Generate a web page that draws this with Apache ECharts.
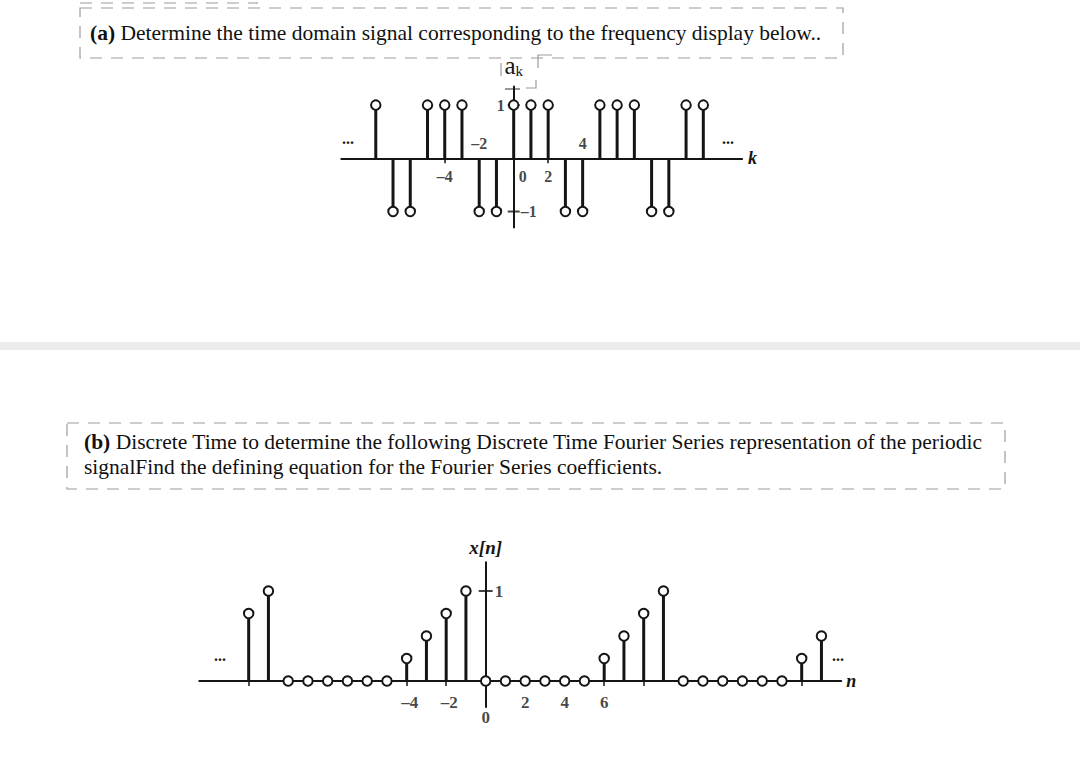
<!DOCTYPE html>
<html>
<head>
<meta charset="utf-8">
<script src="https://cdn.jsdelivr.net/npm/echarts@6/dist/echarts.min.js"></script>
<style>
html, body { margin: 0; padding: 0; background: #fff; }
#chart { width: 1080px; height: 760px; }
</style>
</head>
<body>
<div id="chart"></div>
<script>
// (a) spectrum a_k
var kValues = [-8, -7, -6, -5, -4, -3, -2, -1, 0, 1, 2, 3, 4, 5, 6, 7, 8, 9, 10, 11];
var akValues = [1, -1, -1, 1, 1, 1, -1, -1, 1, 1, 1, -1, -1, 1, 1, 1, -1, -1, 1, 1];
var kTickLabels = [-4, -2, 0, 2, 4];
var akTickLabels = [1, -1];

// (b) signal x[n]
var nValues = [-12, -11, -10, -9, -8, -7, -6, -5, -4, -3, -2, -1, 0, 1, 2, 3, 4, 5,
  6, 7, 8, 9, 10, 11, 12, 13, 14, 15, 16, 17];
var xnValues = [0.75, 1, 0, 0, 0, 0, 0, 0, 0.25, 0.5, 0.75, 1, 0, 0, 0, 0, 0, 0,
  0.25, 0.5, 0.75, 1, 0, 0, 0, 0, 0, 0, 0.25, 0.5];
var nTickLabels = [-4, -2, 0, 2, 4, 6];
var xnTickLabels = [1];
var nTickMarks = [-12, -10, -8, -6, -4, -2, 0, 2, 4, 6, 8, 10, 12, 14, 16];

var serif = "'Liberation Serif', 'DejaVu Serif', serif";
var ink = '#151515';
var boxGray = '#9c9c9c';
var textSize = 21.5;

function dash(v) {
  return String(v).replace('-', '\u2013');
}

function stems(xs, ys, idx, width) {
  return {
    type: 'custom',
    xAxisIndex: idx, yAxisIndex: idx,
    z: 2,
    data: xs.map(function (x, i) { return [x, ys[i]]; }),
    renderItem: function (params, api) {
      var p0 = api.coord([api.value(0), 0]);
      var p1 = api.coord([api.value(0), api.value(1)]);
      return {
        type: 'line',
        shape: { x1: p0[0], y1: p0[1], x2: p1[0], y2: p1[1] },
        style: { stroke: ink, lineWidth: width }
      };
    }
  };
}

function heads(xs, ys, idx) {
  return {
    type: 'scatter',
    xAxisIndex: idx, yAxisIndex: idx,
    z: 4,
    symbol: 'circle',
    symbolSize: 9.5,
    itemStyle: { color: '#fff', borderColor: ink, borderWidth: 2, opacity: 1 },
    data: xs.map(function (x, i) { return [x, ys[i]]; })
  };
}

// x tick labels sit on the side opposite to the stem
var kLabelData = kTickLabels.map(function (k) {
  var a = akValues[kValues.indexOf(k)];
  var up = a < 0;
  return {
    value: [k, 0],
    label: {
      position: up ? 'top' : 'bottom',
      distance: up ? 7 : 10,
      offset: k === 0 ? [9, 0] : [0, 0],
      formatter: dash(k)
    }
  };
});
var akLabelData = akTickLabels.map(function (v) {
  return {
    value: [0, v],
    label: { position: v > 0 ? 'left' : 'right', distance: v > 0 ? 9 : 7, formatter: dash(v) }
  };
});
var nLabelData = nTickLabels.map(function (n) {
  return {
    value: [n, 0],
    label: {
      position: 'bottom',
      distance: n === 0 ? 28 : 13,
      offset: n < 0 ? [3, 0] : [0, 0],
      formatter: dash(n)
    }
  };
});
var xnLabelData = xnTickLabels.map(function (v) {
  return { value: [0, v], label: { position: 'right', distance: 9, formatter: dash(v) } };
});

function labelSeries(data, idx, size) {
  return {
    type: 'scatter',
    xAxisIndex: idx, yAxisIndex: idx,
    symbolSize: 0,
    silent: true,
    z: 5,
    label: { show: true, color: ink, fontFamily: serif, fontWeight: 'bold', fontSize: size },
    data: data
  };
}

function crossTicks(vals, idx, len) {
  return {
    type: 'scatter',
    xAxisIndex: idx, yAxisIndex: idx,
    symbol: 'rect',
    symbolSize: [len, 2],
    z: 3,
    itemStyle: { color: ink },
    data: vals.map(function (v) { return [0, v]; })
  };
}

var chart = echarts.init(document.getElementById('chart'), null, { renderer: 'svg' });

var option = {
  animation: false,
  backgroundColor: '#fff',
  grid: [
    { left: 341.3, top: 86.5, width: 400.8, height: 141 },
    { left: 199.3, top: 562.2, width: 641.9, height: 144.9 }
  ],
  xAxis: [
    {
      gridIndex: 0, type: 'value', min: -10, max: 13.25,
      axisLine: { onZero: true, lineStyle: { color: ink, width: 2 } },
      axisTick: { show: true, customValues: [-4, -2, 2, 4], length: 5, lineStyle: { color: ink, width: 1.5 } },
      axisLabel: { show: false },
      splitLine: { show: false },
      name: 'k', nameLocation: 'end', nameGap: 6,
      nameTextStyle: { fontFamily: serif, fontStyle: 'italic', fontWeight: 'bold', fontSize: 18, color: ink }
    },
    {
      gridIndex: 1, type: 'value', min: -14.5, max: 18,
      axisLine: { onZero: true, lineStyle: { color: ink, width: 2 } },
      axisTick: { show: true, customValues: nTickMarks, length: 5, lineStyle: { color: ink, width: 1.5 } },
      axisLabel: { show: false },
      splitLine: { show: false },
      name: 'n', nameLocation: 'end', nameGap: 5,
      nameTextStyle: { fontFamily: serif, fontStyle: 'italic', fontWeight: 'bold', fontSize: 18, color: ink }
    }
  ],
  yAxis: [
    {
      gridIndex: 0, type: 'value', min: -1.3, max: 1.35,
      axisLine: { onZero: true, lineStyle: { color: ink, width: 2 } },
      axisTick: { show: false },
      axisLabel: { show: false },
      splitLine: { show: false },
      name: '{a|a}{s|k}', nameLocation: 'end', nameGap: 8,
      nameTextStyle: {
        rich: {
          a: { fontFamily: serif, fontSize: 25, color: ink },
          s: { fontFamily: serif, fontSize: 15, color: ink, padding: [12, 0, 0, 0] }
        }
      }
    },
    {
      gridIndex: 1, type: 'value', min: -0.29, max: 1.32,
      axisLine: { onZero: true, lineStyle: { color: ink, width: 2 } },
      axisTick: { show: false },
      axisLabel: { show: false },
      splitLine: { show: false },
      name: 'x[n]', nameLocation: 'end', nameGap: 5,
      nameTextStyle: { fontFamily: serif, fontStyle: 'italic', fontWeight: 'bold', fontSize: 19, color: ink }
    }
  ],
  series: [
    stems(kValues, akValues, 0, 3),
    heads(kValues, akValues, 0),
    labelSeries(kLabelData, 0, 16),
    labelSeries(akLabelData, 0, 16),
    crossTicks(akTickLabels, 0, 12),
    stems(nValues, xnValues, 1, 3),
    heads(nValues, xnValues, 1),
    labelSeries(nLabelData, 1, 17),
    labelSeries(xnLabelData, 1, 17),
    crossTicks(xnTickLabels, 1, 14)
  ],
  graphic: [
    // separator band
    { type: 'rect', shape: { x: 0, y: 342, width: 1080, height: 8 }, style: { fill: '#ebebeb' } },
    // text box (a)
    { type: 'rect', shape: { x: 80, y: 8, width: 763, height: 50 },
      style: { fill: null, stroke: boxGray, lineWidth: 1.2, lineDash: [12, 9] } },
    { type: 'line', shape: { x1: 80, y1: 3, x2: 258, y2: 3 },
      style: { stroke: boxGray, lineWidth: 1.2, lineDash: [12, 9] } },
    { type: 'text', x: 90, y: 33,
      style: {
        text: '{b|(a)} Determine the time domain signal corresponding to the frequency display below..',
        fontFamily: serif, fontSize: textSize, fill: '#111', verticalAlign: 'middle',
        rich: { b: { fontFamily: serif, fontSize: textSize, fontWeight: 'bold', fill: '#111' } }
      } },
    // small box marks around a_k
    { type: 'line', shape: { x1: 501, y1: 63, x2: 501, y2: 76 }, style: { stroke: boxGray, lineWidth: 1.2 } },
    { type: 'polyline', shape: { points: [[552, 55], [538, 55], [538, 68]] }, style: { stroke: boxGray, lineWidth: 1.2, fill: null } },
    { type: 'polyline', shape: { points: [[526, 88], [536, 88], [536, 80]] }, style: { stroke: boxGray, lineWidth: 1.2, fill: null } },
    { type: 'line', shape: { x1: 505, y1: 89, x2: 520, y2: 89 }, style: { stroke: '#555', lineWidth: 1.2 } },
    // continuation dots
    { type: 'text', x: 348, y: 138, style: { text: '...', fontFamily: serif, fontWeight: 'bold', fontSize: 16, fill: ink, align: 'center', verticalAlign: 'middle' } },
    { type: 'text', x: 728, y: 138, style: { text: '...', fontFamily: serif, fontWeight: 'bold', fontSize: 16, fill: ink, align: 'center', verticalAlign: 'middle' } },
    { type: 'text', x: 220, y: 655, style: { text: '...', fontFamily: serif, fontWeight: 'bold', fontSize: 16, fill: ink, align: 'center', verticalAlign: 'middle' } },
    { type: 'text', x: 838, y: 655, style: { text: '...', fontFamily: serif, fontWeight: 'bold', fontSize: 16, fill: ink, align: 'center', verticalAlign: 'middle' } },
    // text box (b)
    { type: 'rect', shape: { x: 67, y: 423, width: 938, height: 66 },
      style: { fill: null, stroke: boxGray, lineWidth: 1.2, lineDash: [12, 9] } },
    { type: 'text', x: 84, y: 442,
      style: {
        text: '{b|(b)} Discrete Time to determine the following Discrete Time Fourier Series representation of the periodic',
        fontFamily: serif, fontSize: textSize, fill: '#111', verticalAlign: 'middle',
        rich: { b: { fontFamily: serif, fontSize: textSize, fontWeight: 'bold', fill: '#111' } }
      } },
    { type: 'text', x: 84, y: 467,
      style: {
        text: 'signalFind the defining equation for the Fourier Series coefficients.',
        fontFamily: serif, fontSize: textSize, fill: '#111', verticalAlign: 'middle'
      } }
  ]
};

chart.setOption(option);
window.addEventListener('resize', function () {
  chart.resize();
});
</script>
</body>
</html>
